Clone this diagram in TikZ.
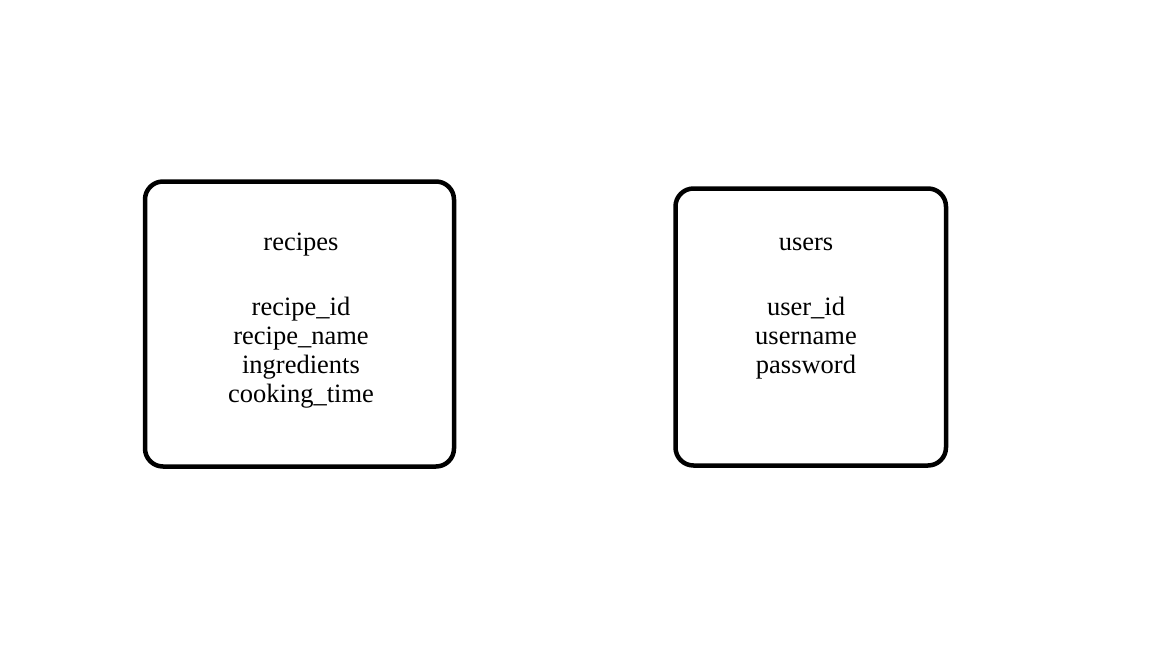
\documentclass[tikz,border=0pt]{standalone}
\usepackage{fontspec}
\setmainfont{Liberation Serif}
\usetikzlibrary{positioning}

\begin{document}
\begin{tikzpicture}[x=1pt,y=-1pt,
        table/.style={draw,line width=4.5pt,rounded corners=18pt,inner sep=0pt},
        entry/.style={font=\fontsize{26.5}{29}\selectfont,inner sep=0pt,anchor=base}]

            \useasboundingbox (0,0) rectangle (1152,648);

            % define the two tables

            \node[table,minimum width=309pt,minimum height=285pt]   (recipes) at (299.5,324) {};

            \node[table,minimum width=270.5pt,minimum height=277pt] (users)   at (810.75,327) {};

            % titles and fields

            \node[entry] (recipes title) at (301,250.5) {recipes};

            \node[entry] (users title)   at (806,250.5) {users};

            \foreach \f [count=\i] in {recipe\_id,recipe\_name,ingredients,cooking\_time}
                \node[entry] (recipes field \i) at (301,286+29*\i) {\f};

            \foreach \f [count=\i] in {user\_id,username,password}
                \node[entry] (users field \i) at (806,286+29*\i) {\f};

        \end{tikzpicture}
\end{document}
